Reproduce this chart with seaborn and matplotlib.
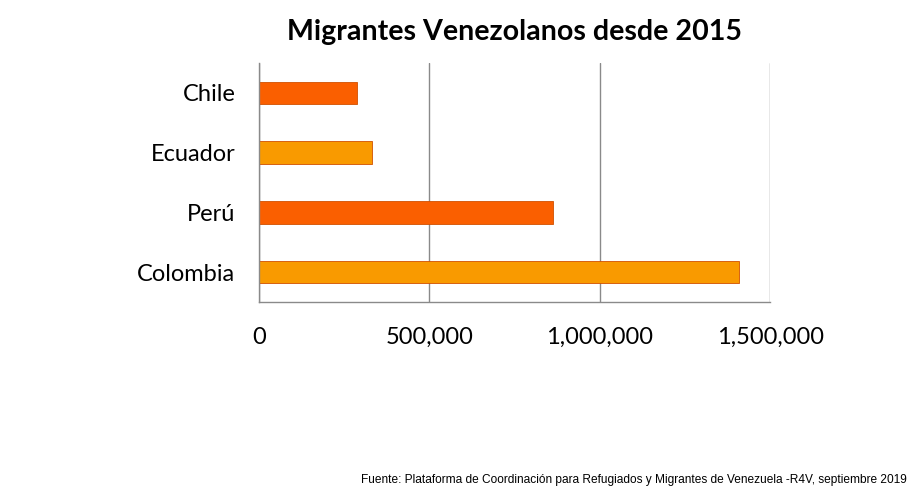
import pandas as pd
import matplotlib.pyplot as plt
import seaborn as sns
from matplotlib.ticker import FuncFormatter

paises = ["Chile", "Ecuador", "Perú", "Colombia"]
migrantes = [288233, 330414, 863613, 1408055]
colores = ["#FA5F00", "#F99A00", "#FA5F00", "#F99A00"]
ticks = [0, 500000, 1000000, 1500000]

df = pd.DataFrame({"pais": paises, "migrantes": migrantes})

sns.set_style("white")
plt.rcParams['font.family'] = ['Lato', 'DejaVu Sans']
plt.rcParams['text.color'] = 'black'

fig = plt.figure(figsize=(9.18, 4.95), dpi=100)
ax = fig.add_axes([0.2821, 0.3899, 0.5567, 0.4828])

sns.barplot(data=df, x="migrantes", y="pais", hue="pais", palette=colores,
            order=paises, width=0.38, legend=False, ax=ax, saturation=1,
            edgecolor="#D05000", linewidth=0.6)

ax.set_xlim(0, 1500000)
ax.set_xticks(ticks)
ax.xaxis.set_major_formatter(FuncFormatter(lambda v, p: f"{int(v):,}"))
ax.grid(True, axis='x', color='#8a8a8a', linewidth=1)
ax.set_axisbelow(True)
for s in ["top", "right"]:
    ax.spines[s].set_visible(False)
for s in ["left", "bottom"]:
    ax.spines[s].set_color('#8a8a8a')
    ax.spines[s].set_linewidth(1)
ax.set_xlabel("")
ax.set_ylabel("")
ax.tick_params(axis='x', labelsize=17, pad=18, length=0, labelcolor='black')
ax.tick_params(axis='y', labelsize=17, pad=17, length=0, labelcolor='black')

fig.text(0.56, 0.935, "Migrantes Venezolanos desde 2015", ha='center', va='center',
         fontsize=20.6, fontweight='bold', color='black')
fig.text(0.988, 0.03, "Fuente: Plataforma de Coordinación para Refugiados y Migrantes de Venezuela -R4V, septiembre 2019",
         ha='right', va='center', fontsize=8.6, color='black',
         family=['Liberation Sans', 'DejaVu Sans'])

fig.savefig("out.png", dpi=100)
